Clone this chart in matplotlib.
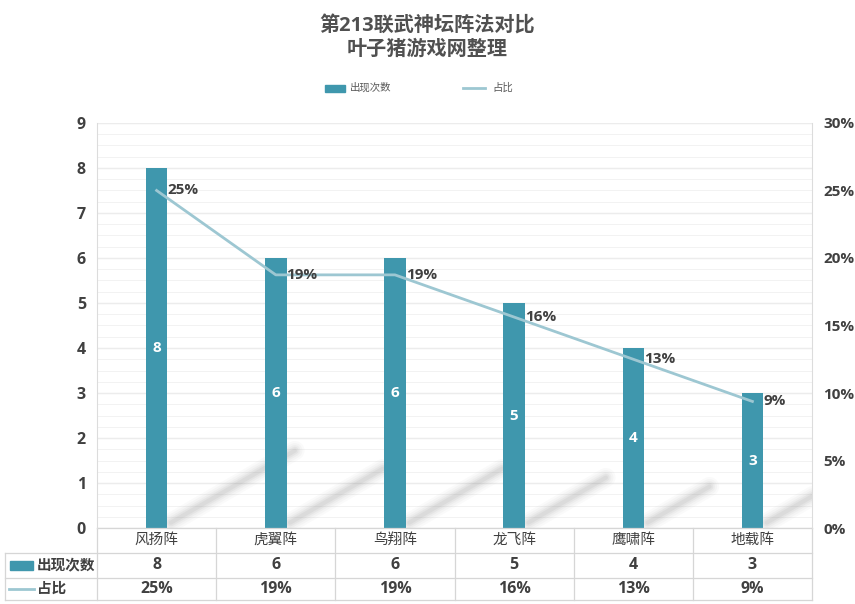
import matplotlib.pyplot as plt
import numpy as np
from matplotlib.transforms import blended_transform_factory

plt.rcParams['font.family'] = ['Open Sans', 'Noto Sans CJK SC', 'DejaVu Sans']

categories = ['风扬阵', '虎翼阵', '鸟翔阵', '龙飞阵', '鹰啸阵', '地载阵']
counts = [8, 6, 6, 5, 4, 3]
shares = [25.0, 18.75, 18.75, 15.625, 12.5, 9.375]
share_labels = ['25%', '19%', '19%', '16%', '13%', '9%']

bar_color = '#3f97ad'
line_color = '#9dc7d2'
text_color = '#404040'
grid_color = '#dcdcdc'

fig = plt.figure(figsize=(8.55, 6.04), dpi=100)
ax = fig.add_axes([0.1135, 0.1258, 0.8362, 0.6706])
x = np.arange(len(categories))

# gridlines (major + faint minor)
for v in np.arange(0, 9.01, 1):
    ax.axhline(v, color=grid_color, lw=0.9, zorder=0)
for v in np.arange(0, 9.01, 0.25):
    ax.axhline(v, color='#f0f0f0', lw=0.6, zorder=0)

# soft shadows behind the bars
for xi, c in zip(x, counts):
    x0, y0 = xi + 0.12, 0.12
    x1, y1 = xi + 0.12 + 0.13 * c, 0.12 + 0.2 * c
    for lw, a in [(14, 0.025), (11, 0.03), (8, 0.04), (5.5, 0.05), (3, 0.06)]:
        ax.plot([x0, x1], [y0, y1], color='#505050', lw=lw, alpha=a,
                solid_capstyle='round', zorder=1, clip_on=True)

ax.bar(x, counts, width=0.18, color=bar_color, zorder=2)
for xi, c in zip(x, counts):
    ax.text(xi, c / 2, str(c), color='white', ha='center', va='center',
            fontsize=11, fontweight='bold', zorder=4)

ax.set_xlim(-0.5, len(categories) - 0.5)
ax.set_ylim(0, 9)
ax.set_yticks(range(0, 10))
ax.set_xticks([])
ax.tick_params(axis='y', length=0, pad=8, labelsize=11.5, colors=text_color)
for t in ax.get_yticklabels():
    t.set_fontweight('bold')
for s in ['top', 'bottom']:
    ax.spines[s].set_visible(False)
for s in ['left', 'right']:
    ax.spines[s].set_color(grid_color)

ax2 = ax.twinx()
ax2.plot(x, shares, color=line_color, lw=2, zorder=3)
for xi, s, lab in zip(x, shares, share_labels):
    ax2.text(xi + 0.09, s, lab, color=text_color, ha='left', va='center',
             fontsize=11, fontweight='bold', zorder=5)
ax2.set_ylim(0, 30)
ax2.set_yticks(range(0, 31, 5))
ax2.set_yticklabels([f'{v}%' for v in range(0, 31, 5)])
ax2.tick_params(axis='y', length=0, pad=8, labelsize=11, colors=text_color)
for t in ax2.get_yticklabels():
    t.set_fontweight('bold')
for s in ax2.spines.values():
    s.set_visible(False)

# data table under the plot
tr = blended_transform_factory(ax.transData, ax.transAxes)
rows_y = [0.0, -0.0617, -0.123, -0.178]
left = -1.27
edges = np.arange(-0.5, len(categories) + 0.5, 1)
tcol = '#d6d6d6'
for yb in rows_y[1:]:
    ax.plot([left, edges[-1]], [yb, yb], color=tcol, lw=0.9, transform=tr, clip_on=False)
ax.plot([edges[0], edges[-1]], [rows_y[0], rows_y[0]], color=tcol, lw=0.9, transform=tr, clip_on=False)
for e in edges:
    ax.plot([e, e], [rows_y[0], rows_y[-1]], color=tcol, lw=0.9, transform=tr, clip_on=False)
ax.plot([left, left], [rows_y[1], rows_y[-1]], color=tcol, lw=0.9, transform=tr, clip_on=False)

def mid(i):
    return (rows_y[i] + rows_y[i + 1]) / 2

for xi, cat, c, lab in zip(x, categories, counts, share_labels):
    ax.text(xi, mid(0), cat, transform=tr, ha='center', va='center',
            fontsize=10.5, color=text_color)
    ax.text(xi, mid(1), str(c), transform=tr, ha='center', va='center',
            fontsize=11.5, color=text_color, fontweight='bold')
    ax.text(xi, mid(2), lab, transform=tr, ha='center', va='center',
            fontsize=11.5, color=text_color, fontweight='bold')

ax.add_patch(plt.Rectangle((left + 0.042, mid(1) - 0.011), 0.19, 0.022,
                           transform=tr, color=bar_color, clip_on=False))
ax.plot([left + 0.03, left + 0.24], [mid(2), mid(2)], color=line_color, lw=2,
        transform=tr, clip_on=False)
ax.text(left + 0.265, mid(1), '出现次数', transform=tr, ha='left', va='center',
        fontsize=10.5, color=text_color, fontweight='bold')
ax.text(left + 0.265, mid(2), '占比', transform=tr, ha='left', va='center',
        fontsize=10.5, color=text_color, fontweight='bold')

# title and legend
fig.text(0.5, 0.972, '第213联武神坛阵法对比\n叶子猪游戏网整理', ha='center', va='top',
         fontsize=14.5, fontweight='bold', color='#505050', linespacing=1.2)
fig.patches.append(plt.Rectangle((325 / 855, 1 - 92 / 604), 20 / 855, 7 / 604,
                                 transform=fig.transFigure, color=bar_color))
fig.text(350 / 855, 1 - 88 / 604, '出现次数', ha='left', va='center', fontsize=7.5, color='#595959')
fig.lines.append(plt.Line2D([463 / 855, 485 / 855], [1 - 88 / 604, 1 - 88 / 604],
                            transform=fig.transFigure, color=line_color, lw=2))
fig.text(492 / 855, 1 - 88 / 604, '占比', ha='left', va='center', fontsize=7.5, color='#595959')

fig.savefig('out.png', dpi=100)
